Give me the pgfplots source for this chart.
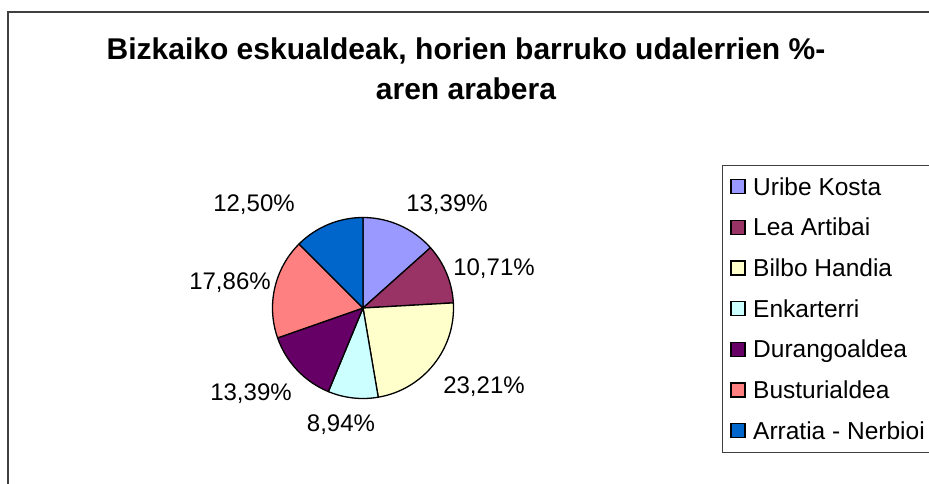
\documentclass[border=0pt]{standalone}
\usepackage{pgfplots}
\pgfplotsset{compat=1.18}
\usepackage{pgfplotstable}
\usepackage{fontspec}
\setmainfont{Liberation Sans}

\definecolor{c1}{HTML}{9999FF}
\definecolor{c2}{HTML}{993366}
\definecolor{c3}{HTML}{FFFFCC}
\definecolor{c4}{HTML}{CCFFFF}
\definecolor{c5}{HTML}{660066}
\definecolor{c6}{HTML}{FF8080}
\definecolor{c7}{HTML}{0066CC}
\definecolor{frame}{HTML}{404040}

% share (%), colour, label offset from pie centre (px, y downward), name
\pgfplotstableread{
v      col  lx    ly    name
13.39  c1   84   -105   {Uribe Kosta}
10.71  c2   131  -41    {Lea Artibai}
23.21  c3   121   77    {Bilbo Handia}
8.94   c4   -22   115   {Enkarterri}
13.39  c5  -112   84    {Durangoaldea}
17.86  c6  -133  -27    {Busturialdea}
12.50  c7  -109  -105   {Arratia - Nerbioi}
}\piedata

\begin{document}
\begin{tikzpicture}
\path[use as bounding box] (0,0) rectangle (929pt,483pt);
\clip (0,0) rectangle (929pt,483pt);
\begin{axis}[
    scale only axis, width=929pt, height=483pt,
    xmin=0, xmax=929, ymin=0, ymax=483, y dir=reverse,
    hide axis, clip=false,
  ]
  % chart area frame
  \draw[frame, line width=1.5pt] (axis cs:8,490) -- (axis cs:8,12) -- (axis cs:940,12);
  % title
  \node[anchor=base, font=\fontsize{30}{36}\selectfont\bfseries]
    at (axis cs:466,59) {Bizkaiko eskualdeak, horien barruko udalerrien \%-};
  \node[anchor=base, font=\fontsize{30}{36}\selectfont\bfseries]
    at (axis cs:466,99) {aren arabera};
  % legend box (its right side lies beyond the picture)
  \draw[frame, line width=1pt] (axis cs:960,165) -- (axis cs:722,165)
    -- (axis cs:722,452) -- (axis cs:960,452);

  \def\startang{90}
  \pgfplotsforeachungrouped \i in {0,...,6}{
    \pgfplotstablegetelem{\i}{v}\of\piedata \let\val\pgfplotsretval
    \pgfplotstablegetelem{\i}{col}\of\piedata \let\col\pgfplotsretval
    \pgfplotstablegetelem{\i}{lx}\of\piedata \let\lx\pgfplotsretval
    \pgfplotstablegetelem{\i}{ly}\of\piedata \let\ly\pgfplotsretval
    \pgfplotstablegetelem{\i}{name}\of\piedata \let\nm\pgfplotsretval
    \pgfmathsetmacro\endang{\startang-3.6*\val}
    \pgfmathsetmacro\labx{363+\lx}
    \pgfmathsetmacro\laby{308+\ly}
    \pgfmathsetmacro\legy{186.5+40.7*\i}
    \edef\slice{%
      \noexpand\filldraw[fill=\col, draw=black, line width=1.3pt, line join=round]
        (axis cs:363,308) -- ++(\startang:90.5pt)
        arc[start angle=\startang, end angle=\endang, radius=90.5pt] -- cycle;
      \noexpand\node[inner sep=0pt, text height=17pt, text depth=0pt,
          font=\noexpand\fontsize{24}{28}\noexpand\selectfont]
        at (axis cs:\labx,\laby)
        {\noexpand\pgfmathprintnumber[assume math mode=true,use comma,fixed,fixed zerofill,precision=2]{\val}\noexpand\%};
      \noexpand\filldraw[fill=\col, draw=black, line width=1.2pt]
        (axis cs:731,\legy) ++(0pt,-7pt) rectangle ++(14pt,14pt);
      \noexpand\node[anchor=west, inner sep=0pt, text height=17.3pt, text depth=0pt,
          font=\noexpand\fontsize{24.5}{28}\noexpand\selectfont]
        at (axis cs:753,\legy) {\nm};
    }
    \slice
    \let\startang\endang
  }
\end{axis}
\end{tikzpicture}
\end{document}
